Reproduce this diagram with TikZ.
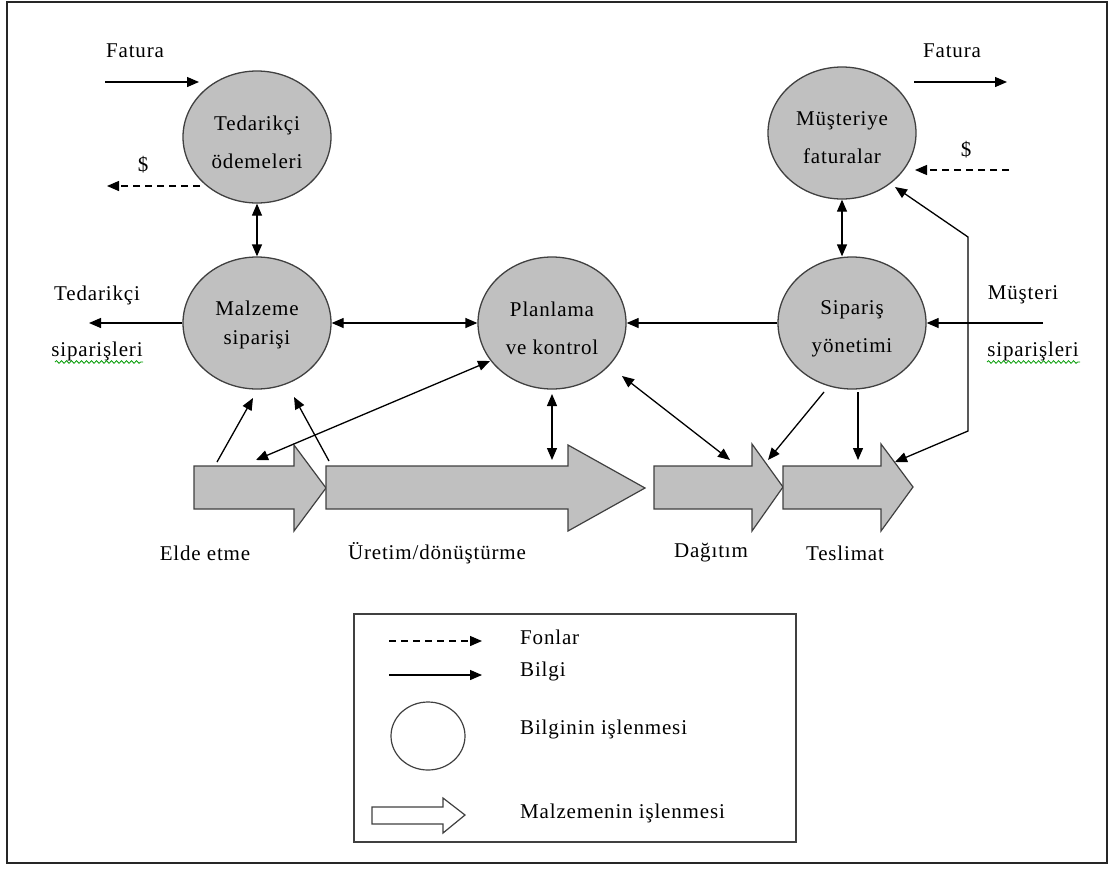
\documentclass[tikz,border=0pt]{standalone}
\usepackage{fontspec}
\setmainfont{Liberation Serif}[LetterSpace=4]
\usetikzlibrary{arrows.meta,shapes.geometric,decorations.pathmorphing,calc}
\definecolor{procfill}{HTML}{C0C0C0}
\definecolor{edge}{HTML}{404040}

\begin{document}
\begin{tikzpicture}[x=1pt,y=-1pt,
  every node/.style={font=\fontsize{21}{38}\selectfont, inner sep=0pt},
  proc/.style={ellipse, draw=edge, line width=1.3pt, fill=procfill,
    minimum width=148pt, minimum height=132pt},
  proctext/.style={align=center},
  tip/.style={-{Triangle[length=12pt,width=10pt]}},
  info/.style={line width=1.3pt, tip},
  infob/.style={line width=1.3pt, {Triangle[length=12pt,width=10pt]}-{Triangle[length=12pt,width=10pt]}},
  fund/.style={info, dash pattern=on 7pt off 5pt},
  mat/.style={draw=edge, line width=1.2pt, fill=procfill, line join=miter},
  legendmat/.style={draw=edge, line width=1.2pt, fill=white, line join=miter},
  spell/.style={draw=green!60!black, line width=0.8pt, decorate,
    decoration={snake, segment length=5pt, amplitude=1.3pt}}
]
\useasboundingbox (0,0) rectangle (1113,868);
% outer frame
\draw[line width=2pt, black!85] (7,2) rectangle (1107,863);

% information processing circles
\node[proc] (C1) at (257,137) {};
\node[proc] (C2) at (842,133) {};
\node[proc] (C3) at (257,323) {};
\node[proc] (C4) at (552,323) {};
\node[proc] (C5) at (852,323) {};
\node[proctext] (T1) at ([yshift=-5pt]C1.center) {Tedarikçi\\ödemeleri};
\node[proctext] (T2) at ([yshift=-5pt]C2.center) {Müşteriye\\faturalar};
\node[proctext, font=\fontsize{21}{29}\selectfont] (T3) at ([yshift=-2pt]C3.center) {Malzeme\\siparişi};
\node[proctext] (T4) at ([yshift=-5pt]C4.center) {Planlama\\ve kontrol};
\node[proctext] (T5) at ([yshift=-6pt]C5.center) {Sipariş\\yönetimi};

% material flow arrows
\draw[mat] (194,466) -- (294,466) -- (294,445) -- (326,488) -- (294,531) -- (294,509) -- (194,509) -- cycle;
\draw[mat] (326,466) -- (568,466) -- (568,445) -- (645,488) -- (568,531) -- (568,509) -- (326,509) -- cycle;
\draw[mat] (654,466) -- (752,466) -- (752,444) -- (783,487) -- (752,531) -- (752,509) -- (654,509) -- cycle;
\draw[mat] (783,466) -- (881,466) -- (881,444) -- (913,487) -- (881,531) -- (881,509) -- (783,509) -- cycle;

\node (lElde) at (205,553) {Elde etme};
\node (lUretim) at (437,553) {Üretim/dönüştürme};
\node (lDag) at (711,553) {Dağıtım};
\node (lTes) at (845,553) {Teslimat};

% free ends of the connectors
\coordinate (finA) at (105,82);   \coordinate (finB) at (199,82);
\coordinate (fdA) at (200,186);   \coordinate (fdB) at (107,186);
\coordinate (foA) at (914,82);    \coordinate (foB) at (1007,82);
\coordinate (fcA) at (1009,170);  \coordinate (fcB) at (915,170);
\coordinate (tsEnd) at (89,323);
\coordinate (msStart) at (1043,323);
\coordinate (fbTop) at (895,187); \coordinate (fbC1) at (968,237);
\coordinate (fbC2) at (968,431);  \coordinate (fbBot) at (895,462);
\coordinate (eldeTop) at (217,462); \coordinate (c3inA) at (253,398);
\coordinate (uretTop) at (329,461); \coordinate (c3inB) at (294,397);
\coordinate (eldeIn) at (256,460);  \coordinate (c4sw) at (490,361);
\coordinate (c4s) at (552,394);     \coordinate (uretIn) at (552,460);
\coordinate (c4se) at (622,376);    \coordinate (dagIn) at (730,460);
\coordinate (c5sw) at (824,392);    \coordinate (dagIn2) at (768,460);
\coordinate (c5s) at (858,392);     \coordinate (tesIn) at (858,460);

% invoices and payments
\node (fatL) at (135,51) {Fatura};
\draw[info] (finA) -- (finB);
\node (dolL) at (143,165) {\$};
\draw[fund] (fdA) -- (fdB);
\node (fatR) at (952,51) {Fatura};
\draw[info] (foA) -- (foB);
\node (dolR) at (966,150) {\$};
\draw[fund] (fcA) -- (fcB);

% links between the circles
\draw[infob] (C1.south) -- (C3.north);
\draw[infob] (C2.south) -- (C2.south |- C5.north);
\draw[infob] (C3.east) -- (C4.west);
\draw[info] (C5.west) -- (C4.east);

% orders
\node (tedL1) at (97,295) {Tedarikçi};
\node (tedL2) at (97,351) {siparişleri};
\draw[spell] (55,362) -- (143,362);
\draw[info] (C3.west) -- (tsEnd);
\node (musL1) at (1023,295) {Müşteri};
\node (musL2) at (1033,351) {siparişleri};
\draw[spell] (987,362) -- (1080,362);
\draw[info] (msStart) -- (C5.east);
\draw[infob] (fbTop) -- (fbC1) -- (fbC2) -- (fbBot);

% links to the material flow
\draw[info] (eldeTop) -- (c3inA);
\draw[info] (uretTop) -- (c3inB);
\draw[infob] (eldeIn) -- (c4sw);
\draw[infob] (c4s) -- (uretIn);
\draw[infob] (c4se) -- (dagIn);
\draw[info] (c5sw) -- (dagIn2);
\draw[info] (c5s) -- (tesIn);

% legend
\draw[line width=1.3pt, edge] (354,614) rectangle (796,842);
\coordinate (lgA1) at (389,641); \coordinate (lgA2) at (482,641);
\coordinate (lgB1) at (389,675); \coordinate (lgB2) at (482,675);
\draw[fund] (lgA1) -- (lgA2);
\draw[info] (lgB1) -- (lgB2);
\node[anchor=west] (lgFon) at (520,637) {Fonlar};
\node[anchor=west] (lgBil) at (520,671) {Bilgi};
\node[ellipse, draw=edge, line width=1.2pt, minimum width=74pt, minimum height=68pt] (lgCirc) at (428,736) {};
\node[anchor=west] (lgProc) at (520,729) {Bilginin işlenmesi};
\draw[legendmat] (372,807) -- (443,807) -- (443,798) -- (465,815) -- (443,833) -- (443,824) -- (372,824) -- cycle;
\node[anchor=west] (lgMat) at (520,813) {Malzemenin işlenmesi};
\end{tikzpicture}
\end{document}
